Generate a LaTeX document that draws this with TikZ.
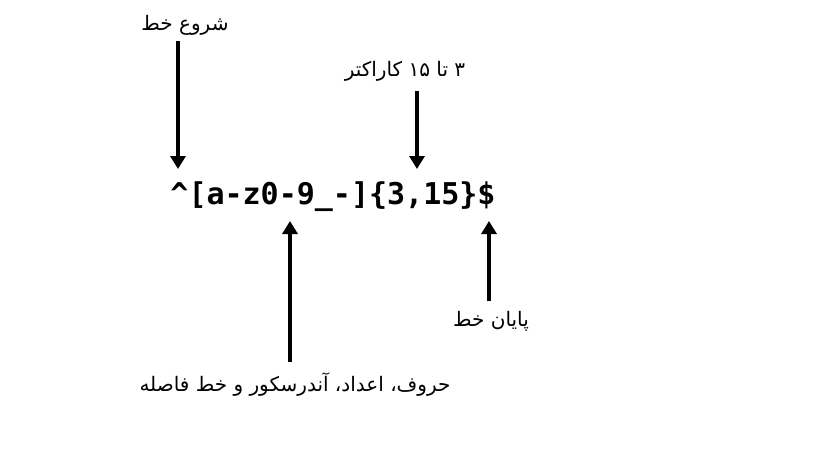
\documentclass[tikz,border=0pt]{standalone}
\usepackage{fontspec}
\newfontfamily\arabicfont[Script=Arabic]{DejaVu Sans}
\newfontfamily\regexfont{DejaVu Sans Mono}
\TeXXeTstate=1
\usetikzlibrary{arrows.meta}
\usetikzlibrary{positioning}

\tikzset{
  note text/.style={inner sep=0pt, font=\arabicfont\fontsize{20}{24}\selectfont},
  regex text/.style={inner sep=0pt, font=\regexfont\bfseries\fontsize{30}{36}\selectfont},
  bigarrow/.style={line width=4pt, -{Triangle[width=15pt,length=13pt]}},
}

\begin{document}
\begin{tikzpicture}[x=1pt,y=-1pt]
        \useasboundingbox (0,0) rectangle (819,460);
        \node[regex text] (regex) at (333,197) {\textasciicircum[a-z0-9\_-]\{3,15\}\$};
        \node[note text] (begin) at (185,25) {\beginR شروع خط\endR};
        \node[note text] (count) at (405,71) {\beginR ۳ تا \beginL ۱۵\endL{} کاراکتر\endR};
        \node[note text] (end) at (491,321) {\beginR پایان خط\endR};
        \node[note text] (chars) at (295,385) {\beginR حروف، اعداد، آندرسکور و خط فاصله\endR};
        \coordinate (begin tip) at (178,169);
        \coordinate (count tip) at (417,169);
        \coordinate (chars tip) at (290,221);
        \coordinate (end tip) at (489,221);
        \draw[bigarrow, shorten <=6pt] ([xshift=-7pt]begin.south) -- (begin tip);
        \draw[bigarrow, shorten <=10pt] ([xshift=12pt]count.south) -- (count tip);
        \draw[bigarrow, shorten <=11pt] ([xshift=-5pt]chars.north) -- (chars tip);
        \draw[bigarrow, shorten <=10pt] ([xshift=-2pt]end.north) -- (end tip);
\end{tikzpicture}
\end{document}
